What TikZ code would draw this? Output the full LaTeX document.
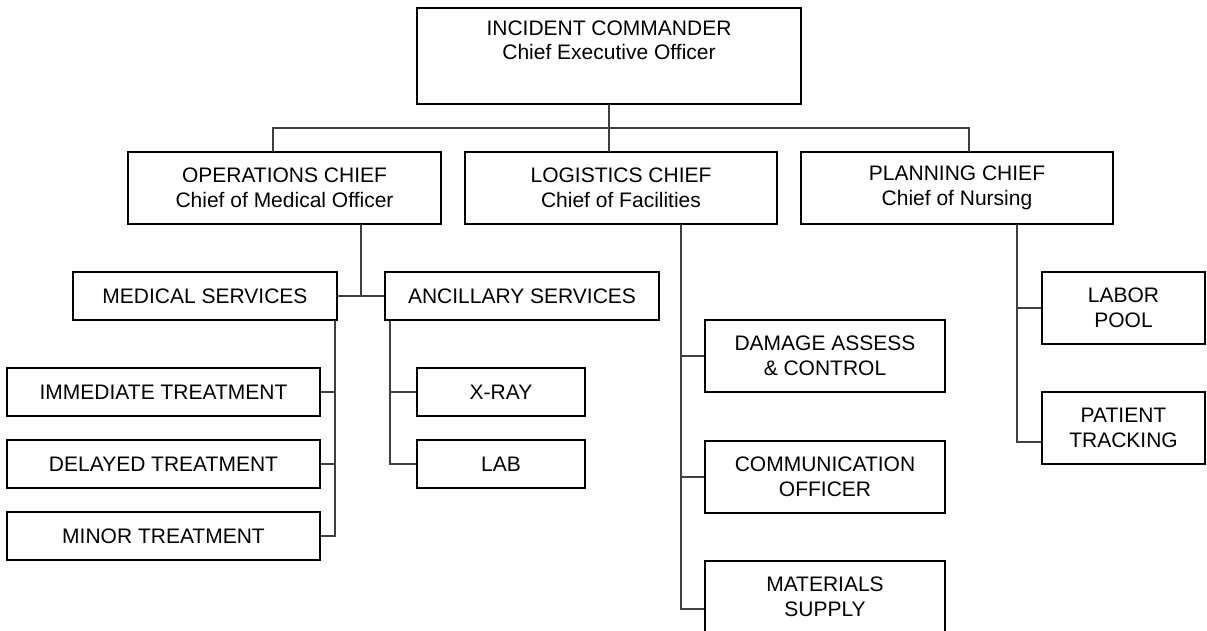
\documentclass[tikz,border=0pt]{standalone}
\usepackage{fontspec}
\setmainfont{Liberation Sans}
\tikzset{
  box/.style={draw=black, line width=1.5pt, align=center, inner sep=0pt,
    font=\fontsize{21}{24.5}\selectfont},
  conn/.style={draw=black!75, line width=1.1pt},
}
\begin{document}
\begin{tikzpicture}[x=1pt,y=-1pt]
\useasboundingbox (0,0) rectangle (1207,631);
% boxes
\node[box, minimum width=384, minimum height=96] (cmd) at (609,56) {INCIDENT COMMANDER\\Chief Executive Officer\\\strut};
\node[box, minimum width=313, minimum height=72] (ops) at (284.5,188) {OPERATIONS CHIEF\\Chief of Medical Officer};
\node[box, minimum width=312, minimum height=72] (log) at (621,188) {LOGISTICS CHIEF\\Chief of Facilities};
\node[box, minimum width=312, minimum height=72] (plan) at (957,188) {PLANNING CHIEF\\Chief of Nursing};
\node[box, minimum width=264, minimum height=48] (med) at (205,296) {MEDICAL SERVICES};
\node[box, minimum width=274, minimum height=48] (anc) at (522,296) {ANCILLARY SERVICES};
\node[box, minimum width=313, minimum height=48] (imm) at (163.5,392) {IMMEDIATE TREATMENT};
\node[box, minimum width=313, minimum height=48] (del) at (163.5,464) {DELAYED TREATMENT};
\node[box, minimum width=313, minimum height=48] (minor) at (163.5,536) {MINOR TREATMENT};
\node[box, minimum width=168, minimum height=48] (xray) at (501,392) {X-RAY};
\node[box, minimum width=168, minimum height=48] (labb) at (501,464) {LAB};
\node[box, minimum width=240, minimum height=72] (dam) at (825,356) {DAMAGE ASSESS\\\&\ CONTROL};
\node[box, minimum width=240, minimum height=72] (com) at (825,477) {COMMUNICATION\\OFFICER};
\node[box, minimum width=240, minimum height=72] (mat) at (825,597) {MATERIALS\\SUPPLY};
\node[box, minimum width=163, minimum height=72] (labor) at (1123.5,308) {LABOR\\POOL};
\node[box, minimum width=163, minimum height=72] (pat) at (1123.5,428) {PATIENT\\TRACKING};
% junction coordinates
\coordinate (busL) at (273,128);
\coordinate (busR) at (969,128);
\coordinate (opsj) at (361,296);
\coordinate (medv) at (335,0);
\coordinate (ancv) at (390,0);
\coordinate (logv) at (681,0);
\coordinate (planv) at (1017,0);
% connectors
\draw[conn] (cmd.south) -- (cmd.south |- log.north);
\draw[conn] (busL |- ops.north) -- (busL) -- (busR) -- (busR |- plan.north);
\draw[conn] (opsj |- ops.south) -- (opsj);
\draw[conn] (med.east) -- (anc.west);
\draw[conn] (med.south -| medv) |- (minor.east);
\draw[conn] (imm.east) -- (imm.east -| medv);
\draw[conn] (del.east) -- (del.east -| medv);
\draw[conn] (anc.south -| ancv) |- (labb.west);
\draw[conn] (xray.west) -- (xray.west -| ancv);
\draw[conn] (log.south -| logv) |- ([yshift=-12pt]mat.west);
\draw[conn] (dam.west) -- (dam.west -| logv);
\draw[conn] (com.west) -- (com.west -| logv);
\draw[conn] (plan.south -| planv) |- ([yshift=-14pt]pat.west);
\draw[conn] (labor.west) -- (labor.west -| planv);
\end{tikzpicture}
\end{document}
